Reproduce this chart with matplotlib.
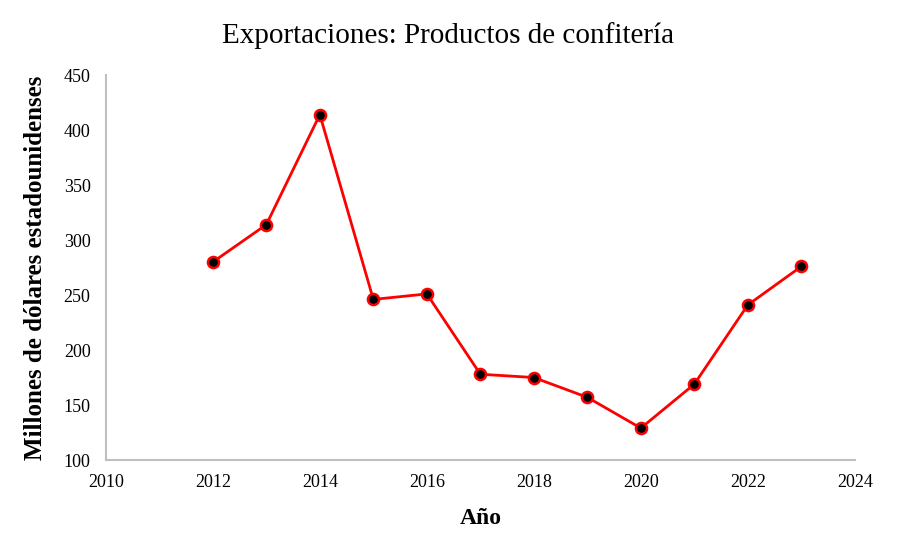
import matplotlib.pyplot as plt

years = [2012, 2013, 2014, 2015, 2016, 2017, 2018, 2019, 2020, 2021, 2022, 2023]
values = [280, 314, 414, 246, 251, 178, 175, 157, 129, 169, 241, 276]

plt.rcParams['font.family'] = ['Liberation Serif', 'DejaVu Serif']

fig = plt.figure(figsize=(8.97, 5.5), dpi=100)
ax = fig.add_axes([0.118, 0.1636, 0.835, 0.70])

ax.plot(years, values, color='#ff0000', linewidth=2, marker='o',
        markersize=8, markerfacecolor='black', markeredgecolor='#ff0000',
        markeredgewidth=1.8)

ax.set_xlim(2010, 2024)
ax.set_ylim(100, 450)
ax.set_xticks(range(2010, 2025, 2))
ax.set_yticks(range(100, 451, 50))
ax.tick_params(axis='x', length=0, labelsize=13, pad=10)
ax.tick_params(axis='y', length=0, labelsize=13, pad=11)

for side in ['top', 'right']:
    ax.spines[side].set_visible(False)
for side in ['left', 'bottom']:
    ax.spines[side].set_color('#bfbfbf')
    ax.spines[side].set_linewidth(1.5)

fig.text(0.5, 0.935, "Exportaciones: Productos de confitería", fontsize=21,
         ha='center', va='center')
ax.set_xlabel("Año", fontsize=17, fontweight='bold', labelpad=12)
ax.set_ylabel("Millones de dólares estadounidenses", fontsize=18, fontweight='bold', labelpad=12)

fig.savefig('out.png', dpi=100)
